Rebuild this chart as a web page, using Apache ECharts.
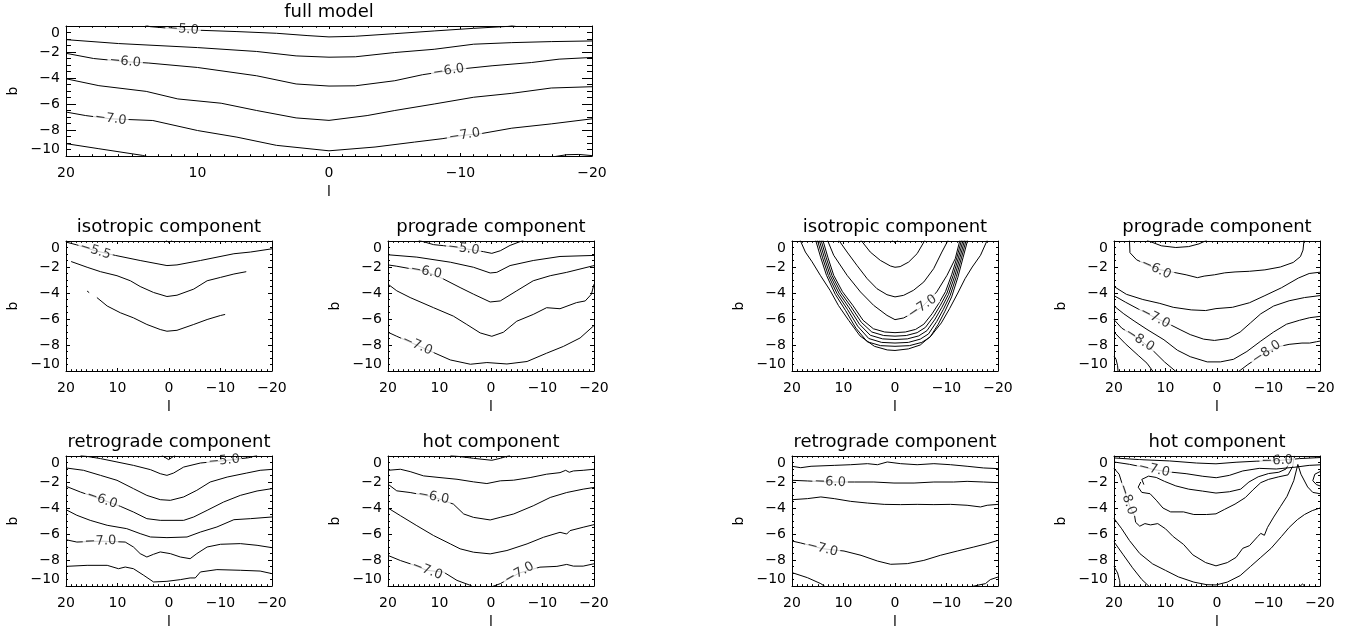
<!DOCTYPE html>
<html>
<head>
<meta charset="utf-8">
<title>Surface density contours</title>
<script src="https://cdn.jsdelivr.net/npm/echarts@6/dist/echarts.min.js"></script>
<style>
  html, body { margin: 0; padding: 0; background: #fff; }
  #chart { width: 1353px; height: 631px; }
</style>
</head>
<body>
<div id="chart"></div>
<script>
// ---- tick values ----
const lTicks = [20, 10, 0, -10, -20];
const bTicks = [0, -2, -4, -6, -8, -10];

const panelTitles = [
  'full model',
  'isotropic component', 'prograde component',
  'isotropic component', 'prograde component',
  'retrograde component', 'hot component',
  'retrograde component', 'hot component'
];

// ---- contour lines, points are [l, b]; labels are [l, b, level] ----
const fullModelLines = [
  [[14.0,0.1],[13.6,-0.05],[11.1,-0.26],[9.8,-0.33],[7.0,-0.43],[4.0,-0.56],[1.6,-0.74],[0,-0.84],[-2.0,-0.79],[-5.0,-0.59],[-8.0,-0.38],[-11.0,-0.18],[-13.6,-0.03],[-14.2,0.1]],
  [[20,-1.05],[16.0,-1.35],[10.0,-1.66],[5.5,-1.96],[2.5,-2.3],[0,-2.4],[-2.0,-2.37],[-5.0,-2.04],[-8.0,-1.79],[-11.0,-1.4],[-13.9,-1.28],[-16.9,-1.2],[-20,-1.15]],
  [[20,-2.1],[17.9,-2.5],[15.5,-2.74],[13.7,-2.85],[10.0,-3.19],[5.5,-3.83],[2.5,-4.46],[0,-4.62],[-2.0,-4.6],[-5.0,-4.21],[-7.1,-3.75],[-9.1,-3.44],[-9.9,-3.32],[-12.4,-3.06],[-15.4,-2.81],[-17.5,-2.55],[-20,-2.42]],
  [[20,-4.06],[17.5,-4.59],[13.9,-5.03],[11.5,-5.61],[8.2,-5.94],[5.5,-6.5],[2.5,-7.07],[0,-7.26],[-2.9,-6.89],[-5.0,-6.5],[-8.0,-6.0],[-11.0,-5.48],[-13.9,-5.18],[-16.9,-4.77],[-20,-4.67]],
  [[20,-6.62],[18.5,-6.89],[16.6,-7.14],[13.4,-7.27],[10.0,-8.04],[7.0,-8.55],[4.0,-9.18],[0,-9.6],[-3.5,-9.31],[-6.5,-8.93],[-8.6,-8.67],[-10.3,-8.4],[-11.5,-8.29],[-13.9,-7.86],[-16.9,-7.53],[-20,-7.14]],
  [[20,-9.05],[17.5,-9.44],[14.2,-9.95],[13.6,-10.1]],
  [[-16.8,-10.1],[-18.1,-9.9],[-19.0,-9.88],[-20,-9.97]]
];
const fullModelLabels = [[11.1,-0.26,-5.0],[15.5,-2.74,-6.0],[-9.1,-3.44,-6.0],[16.6,-7.14,-7.0],[-10.3,-8.4,-7.0]];

const isoLeftLines = [
  [[20,-0.08],[17.9,-0.3],[14.3,-0.75],[10.4,-1.11],[5.6,-1.5],[0.4,-1.89],[-1.55,-1.84],[-6.1,-1.5],[-12.6,-0.98],[-15.8,-0.85],[-20,-0.6]],
  [[0.6,0.05],[0,-0.12],[-0.6,0.05]],
  [[19.0,-1.58],[15.9,-2.02],[13.3,-2.36],[10.1,-2.67],[7.5,-3.06],[5.6,-3.5],[3.0,-3.96],[0.4,-4.27],[-1.55,-4.17],[-4.8,-3.7],[-7.4,-3.06],[-10.0,-2.8],[-12.6,-2.54],[-15.0,-2.36]],
  [[15.9,-3.85],[15.5,-3.97]],
  [[14.0,-4.35],[12.0,-5.0],[9.45,-5.52],[6.9,-5.91],[4.3,-6.42],[1.7,-6.81],[0.4,-6.94],[-1.55,-6.87],[-4.8,-6.42],[-7.4,-6.04],[-10.0,-5.73],[-10.9,-5.65]]
];
const isoLeftLabels = [[14.3,-0.75,-5.5]];

const proLeftLines = [
  [[14.05,0.05],[11.15,-0.28],[9.2,-0.36],[5.3,-0.58],[1.45,-0.82],[-0.16,-0.95],[-1.8,-0.75],[-3.7,-0.34],[-6.3,0.05]],
  [[20,-1.06],[14.4,-1.24],[7.9,-1.63],[3.4,-2.02],[0.16,-2.46],[-1.13,-2.41],[-3.7,-1.89],[-8.2,-1.5],[-13.4,-1.19],[-20,-1.11]],
  [[20,-1.84],[18.3,-1.94],[12.6,-2.35],[9.2,-2.93],[6.0,-3.58],[3.4,-4.09],[0.16,-4.69],[-1.8,-4.61],[-5.0,-3.83],[-8.2,-3.06],[-11.5,-2.67],[-14.7,-2.41],[-20,-1.89]],
  [[20,-3.32],[18.3,-3.83],[15.7,-4.35],[11.15,-5.13],[7.3,-5.78],[4.7,-6.42],[2.1,-7.07],[-0.16,-7.33],[-2.4,-7.02],[-5.0,-6.17],[-8.2,-5.65],[-10.8,-5.13],[-13.4,-5.21],[-16.6,-4.74],[-18.3,-4.61],[-19.5,-4.09],[-20,-3.32]],
  [[20,-7.02],[18.3,-7.33],[14.3,-8.03],[11.15,-8.58],[7.9,-9.15],[4.0,-9.48],[0.8,-9.35],[-3.1,-9.46],[-7.0,-9.27],[-10.8,-8.63],[-14.05,-8.11],[-17.3,-7.46],[-20,-6.5]]
];
const proLeftLabels = [[5.3,-0.58,-5.0],[12.6,-2.35,-6.0],[14.3,-8.03,-7.0]];

const isoRightLines = [
  [[0.6,0.05],[0,-0.12],[-0.6,0.05]],
  [[6.6,0.05],[4.8,-0.85],[2.85,-1.49],[0.9,-1.92],[0,-2.02],[-1.0,-1.97],[-2.65,-1.62],[-4.3,-0.97],[-5.8,0.05]],
  [[10.9,0.05],[9.3,-0.85],[7.4,-1.87],[5.4,-2.9],[3.5,-3.67],[1.56,-4.13],[0,-4.3],[-1.67,-4.18],[-3.6,-3.79],[-5.6,-3.15],[-7.5,-2.13],[-9.1,-0.85],[-10.3,0.05]],
  [[13.1,0.05],[11.9,-1.1],[9.3,-2.64],[6.7,-3.92],[4.15,-4.95],[1.56,-5.72],[0,-6.05],[-1.67,-5.92],[-3.6,-5.51],[-5.3,-5.05],[-8.1,-3.92],[-10.1,-2.64],[-11.7,-1.36],[-12.6,0.05]],
  [[14.0,0.05],[13.0,-1.3],[11.9,-2.64],[10.2,-3.9],[8.2,-4.95],[6.2,-6.1],[4.2,-6.75],[2.0,-7.0],[0,-7.05],[-2.0,-7.0],[-4.0,-6.8],[-5.6,-6.4],[-7.2,-5.6],[-8.5,-4.8],[-9.8,-3.9],[-11.0,-2.6],[-12.0,-1.3],[-12.9,0.05]],
  [[14.35,0.05],[13.35,-1.3],[12.25,-2.64],[10.55,-3.95],[8.55,-5.05],[6.55,-6.25],[4.5,-7.0],[2.2,-7.27],[0,-7.32],[-2.2,-7.27],[-4.3,-7.05],[-5.9,-6.65],[-7.5,-5.8],[-8.8,-4.95],[-10.1,-4.0],[-11.3,-2.65],[-12.3,-1.3],[-13.2,0.05]],
  [[14.7,0.05],[13.7,-1.3],[12.6,-2.64],[10.9,-4.0],[8.9,-5.15],[6.9,-6.4],[4.8,-7.25],[2.4,-7.53],[0,-7.58],[-2.4,-7.53],[-4.6,-7.3],[-6.2,-6.9],[-7.8,-6.0],[-9.1,-5.1],[-10.4,-4.1],[-11.6,-2.7],[-12.6,-1.3],[-13.5,0.05]],
  [[15.05,0.05],[14.05,-1.3],[12.95,-2.64],[11.25,-4.05],[9.25,-5.25],[7.25,-6.55],[5.1,-7.5],[2.6,-7.8],[0,-7.85],[-2.6,-7.8],[-4.9,-7.55],[-6.5,-7.15],[-8.1,-6.2],[-9.4,-5.25],[-10.7,-4.2],[-11.9,-2.75],[-12.9,-1.3],[-13.8,0.05]],
  [[15.4,0.05],[14.4,-1.3],[13.3,-2.64],[11.6,-4.1],[9.6,-5.35],[7.6,-6.7],[5.4,-7.75],[2.8,-8.05],[0,-8.1],[-2.8,-8.05],[-5.2,-7.8],[-6.8,-7.4],[-8.4,-6.4],[-9.7,-5.4],[-11.0,-4.3],[-12.2,-2.8],[-13.2,-1.3],[-14.1,0.05]],
  [[18.4,0.05],[17.4,-0.85],[16.1,-1.6],[14.5,-2.64],[12.6,-3.8],[11.0,-4.95],[9.0,-6.1],[6.8,-7.3],[4.0,-8.1],[1.5,-8.38],[0,-8.42],[-2.6,-8.3],[-4.9,-8.0],[-7.0,-7.3],[-9.0,-6.3],[-10.6,-5.2],[-12.2,-4.0],[-13.6,-2.9],[-15.0,-2.0],[-16.6,-1.1],[-17.9,0.05]]
];
const isoRightLabels = [[-5.3,-5.05,-7.0]];

const proRightLines = [
  [[13.6,0.05],[10.8,-0.37],[8.0,-0.5],[5.5,-0.43],[3.5,-0.22],[2.0,0.05]],
  [[17.0,0.05],[16.9,-0.9],[15.6,-1.45],[11.8,-2.15],[8.3,-2.42],[6.0,-2.6],[3.8,-2.82],[2.5,-2.7],[0.5,-2.6],[-1.5,-2.45],[-3.5,-2.38],[-6.3,-2.33],[-9.3,-2.22],[-12.3,-2.0],[-14.8,-1.65],[-16.2,-1.2],[-16.7,-0.7],[-16.9,0.05]],
  [[20,-3.5],[17.6,-4.1],[14.4,-4.5],[11.1,-4.8],[8.5,-5.1],[5.0,-5.3],[2.2,-5.35],[0.2,-5.2],[-3.0,-5.1],[-6.3,-4.75],[-9.3,-4.2],[-12.5,-3.6],[-15.8,-2.85],[-17.9,-2.5],[-20,-2.4]],
  [[20,-4.2],[17.8,-4.7],[15.2,-5.25],[12.0,-5.9],[9.0,-6.45],[7.0,-6.85],[5.2,-7.2],[2.6,-7.55],[0.5,-7.65],[-2.2,-7.5],[-4.5,-7.0],[-6.5,-6.3],[-8.5,-5.6],[-11.0,-5.0],[-14.0,-4.6],[-17.0,-4.35],[-20,-4.2]],
  [[20,-5.0],[18.1,-5.6],[16.1,-6.15],[13.6,-6.8],[10.3,-7.6],[7.7,-8.4],[5.2,-8.9],[1.9,-9.3],[-0.65,-9.3],[-3.2,-9.1],[-5.8,-8.5],[-8.5,-7.7],[-11.0,-7.0],[-13.5,-6.4],[-16.0,-6.1],[-18.0,-5.9],[-20,-5.8]],
  [[20,-6.05],[18.5,-6.7],[15.0,-7.6],[12.5,-8.4],[10.2,-9.3],[7.8,-10.1]],
  [[-4.0,-10.1],[-6.0,-9.5],[-7.5,-9.1],[-9.6,-8.55],[-11.7,-8.15],[-14.0,-7.95],[-16.5,-7.85],[-18.0,-7.85],[-19.3,-7.75],[-20,-7.7]],
  [[20,-7.0],[17.8,-7.9],[15.3,-8.8],[13.6,-9.4],[12.3,-10.1]],
  [[20,-8.85],[19.6,-9.1],[19.3,-9.6],[19.2,-10.1]]
];
const proRightLabels = [[11.8,-2.15,-6.0],[12.0,-5.9,-7.0],[15.0,-7.6,-8.0],[-9.6,-8.55,-8.0]];

const retroLeftLines = [
  [[1.4,0.05],[0.07,-0.28],[-1.2,0.05]],
  [[17.2,0.05],[13.3,-0.2],[10.1,-0.46],[6.9,-0.72],[3.6,-1.05],[1.7,-1.36],[0.4,-1.49],[-0.9,-1.31],[-2.85,-0.85],[-6.1,-0.54],[-10.7,-0.36],[-15.5,-0.13],[-17.1,0.05]],
  [[20,-0.92],[16.6,-1.1],[13.3,-1.49],[10.1,-1.87],[6.9,-2.51],[4.3,-3.03],[1.7,-3.36],[-0.26,-3.41],[-2.85,-3.15],[-5.4,-2.64],[-8.0,-2.0],[-11.3,-1.62],[-15.1,-1.31],[-17.7,-1.1],[-20,-1.03]],
  [[20,-2.33],[17.2,-2.77],[13.0,-3.36],[9.45,-3.87],[6.9,-4.31],[4.3,-4.82],[1.7,-4.95],[-2.85,-4.95],[-4.8,-4.69],[-7.4,-4.18],[-10.6,-3.54],[-13.85,-3.03],[-17.1,-2.69],[-20,-2.51]],
  [[20,-4.13],[17.9,-4.56],[15.3,-4.95],[12.0,-5.33],[8.2,-5.59],[5.6,-5.97],[3.6,-6.23],[0.4,-6.28],[-3.5,-6.23],[-6.1,-5.85],[-9.3,-5.46],[-12.6,-4.9],[-15.8,-4.82],[-20,-4.69]],
  [[20,-6.44],[17.9,-6.62],[13.3,-6.55],[8.5,-6.62],[6.9,-7.0],[5.6,-7.51],[4.3,-7.77],[3.0,-7.56],[1.7,-7.38],[-0.26,-7.51],[-2.2,-7.77],[-4.1,-7.9],[-5.4,-7.51],[-7.4,-7.0],[-10.0,-6.79],[-13.85,-6.74],[-17.1,-6.87],[-20,-7.05]],
  [[20,-8.49],[15.9,-8.41],[12.0,-8.41],[9.8,-8.67],[8.5,-8.54],[6.9,-8.67],[4.9,-9.18],[3.0,-9.69],[0.4,-9.64],[-2.2,-9.51],[-4.1,-9.38],[-5.1,-9.38],[-6.1,-8.92],[-9.3,-8.74],[-13.85,-8.79],[-17.7,-8.85],[-20,-9.05]]
];
const retroLeftLabels = [[-10.7,-0.36,-5.0],[13.0,-3.36,-6.0],[13.3,-6.55,-7.0]];

const hotLeftLines = [
  [[7.9,0.05],[3.4,-0.18],[-0.16,-0.33],[-1.8,-0.18],[-3.7,0.05]],
  [[20,-1.1],[17.6,-1.02],[15.7,-1.2],[13.1,-1.53],[9.9,-1.66],[6.6,-1.79],[3.4,-1.99],[0.8,-2.12],[-1.8,-1.91],[-4.4,-1.86],[-7.6,-1.66],[-10.8,-1.4],[-13.4,-1.28],[-14.5,-1.1],[-15.2,-1.25],[-16.0,-1.15],[-17.9,-1.1],[-20,-1.02]],
  [[20,-2.17],[18.3,-2.68],[15.7,-2.81],[11.15,-3.15],[7.3,-3.7],[5.3,-4.46],[3.4,-4.72],[0.16,-4.92],[-1.8,-4.72],[-4.4,-4.46],[-8.2,-3.83],[-11.5,-3.19],[-14.7,-2.81],[-17.9,-2.55],[-20,-2.42]],
  [[20,-4.0],[17.6,-4.59],[14.4,-5.36],[11.15,-6.12],[7.9,-6.76],[6.0,-7.14],[3.4,-7.4],[0.16,-7.53],[-3.1,-7.27],[-7.0,-6.76],[-10.2,-6.25],[-13.4,-5.87],[-14.7,-6.0],[-15.35,-5.74],[-17.9,-5.48],[-20,-5.28]],
  [[20,-7.65],[17.6,-8.04],[15.7,-8.29],[12.4,-8.8],[9.2,-8.93],[6.6,-9.57],[4.0,-9.95],[3.4,-10.1]],
  [[0.16,-10.1],[-1.8,-9.82],[-5.5,-9.0],[-9.5,-8.55],[-12.8,-8.49],[-14.7,-8.34],[-16.0,-8.47],[-17.9,-8.47],[-20,-8.29]]
];
const hotLeftLabels = [[11.15,-3.15,-6.0],[12.4,-8.8,-7.0],[-5.5,-9.0,-7.0]];

const retroRightLines = [
  [[20,-0.79],[18.3,-0.9],[16.3,-0.79],[11.8,-0.72],[8.6,-0.67],[5.35,-0.59],[3.4,-0.67],[1.5,-0.46],[-1.1,-0.59],[-4.3,-0.67],[-7.55,-0.59],[-10.8,-0.67],[-14.0,-0.79],[-17.2,-0.92],[-20,-0.97]],
  [[20,-1.87],[17.0,-1.92],[12.6,-2.0],[7.9,-2.0],[4.1,-2.0],[0.2,-2.08],[-3.7,-2.08],[-7.55,-2.0],[-11.4,-2.0],[-14.0,-1.95],[-17.2,-2.0],[-20,-2.05]],
  [[20,-3.36],[17.0,-3.28],[14.4,-3.15],[11.8,-3.28],[8.6,-3.49],[5.35,-3.62],[2.1,-3.72],[-1.1,-3.74],[-4.3,-3.72],[-7.55,-3.74],[-10.8,-3.72],[-14.0,-3.79],[-16.6,-3.92],[-17.9,-3.79],[-20,-3.72]],
  [[20,-6.54],[18.3,-6.69],[14.1,-7.13],[9.9,-7.31],[6.6,-7.64],[3.4,-8.08],[0.84,-8.33],[-2.4,-8.28],[-5.6,-8.03],[-8.8,-7.64],[-12.1,-7.31],[-15.3,-7.0],[-17.9,-6.74],[-20,-6.49]],
  [[20,-8.97],[17.0,-9.36],[14.4,-9.82],[13.4,-10.1]],
  [[-14.3,-10.1],[-16.3,-9.92],[-17.55,-9.82],[-18.5,-9.51],[-20,-9.31]]
];
const retroRightLabels = [[12.6,-2.0,-6.0],[14.1,-7.13,-7.0]];

const hotRightLines = [
  [[20,-0.15],[15.0,-0.28],[9.2,-0.38],[4.0,-0.54],[0.2,-0.6],[-3.7,-0.48],[-7.6,-0.4],[-11.7,-0.36],[-16.0,-0.2],[-20,-0.12]],
  [[20,-0.46],[17.0,-0.64],[14.4,-0.85],[12.2,-1.05],[9.2,-1.23],[6.0,-1.36],[2.75,-1.56],[0.16,-1.67],[-2.4,-1.49],[-5.0,-1.15],[-8.2,-0.95],[-11.5,-1.0],[-15.35,-0.85],[-17.9,-0.72],[-20,-0.68]],
  [[14.2,-2.2],[14.6,-1.8],[13.3,-1.55],[11.8,-1.65],[10.2,-1.95],[8.0,-2.3],[5.5,-2.55],[2.8,-2.7],[0.2,-2.85],[-2.4,-2.75],[-4.6,-2.55],[-6.2,-2.0],[-8.0,-1.6],[-10.0,-1.35],[-12.0,-1.25],[-13.4,-1.0],[-14.0,-0.55],[-14.3,0.05]],
  [[14.8,-2.0],[15.3,-2.4],[14.6,-2.8],[13.0,-2.9],[11.8,-3.4],[10.5,-4.0],[9.0,-4.3],[6.5,-4.3],[4.5,-4.5],[2.0,-4.5],[0.2,-4.45],[-1.5,-4.1],[-3.5,-3.7],[-5.5,-3.2],[-7.0,-2.6],[-8.5,-2.05],[-10.0,-1.8],[-12.0,-1.6],[-13.8,-1.45],[-14.7,-0.8],[-15.0,0.05]],
  [[20,-0.95],[19.0,-1.4],[18.3,-2.3],[17.4,-3.35],[16.8,-4.0],[16.0,-4.6],[15.8,-5.1],[15.0,-5.4],[14.0,-5.2],[12.9,-5.3],[11.5,-5.2],[10.0,-5.6],[8.5,-6.2],[6.5,-6.8],[4.7,-7.6],[2.2,-8.2],[0.2,-8.45],[-2.0,-8.2],[-3.7,-7.8],[-5.0,-7.1],[-6.3,-6.9],[-7.9,-6.2],[-8.5,-5.95],[-9.2,-6.1],[-9.8,-5.5],[-11.0,-4.7],[-12.3,-3.9],[-13.6,-3.1],[-14.9,-1.9],[-15.7,-0.65],[-16.3,-1.4],[-17.6,-2.38],[-18.6,-2.8],[-20,-2.9]],
  [[-20,-1.2],[-19.0,-1.4],[-18.6,-1.9],[-19.3,-2.2],[-20,-2.3]],
  [[20,-4.8],[18.5,-5.6],[17.0,-6.5],[15.0,-7.5],[12.5,-8.3],[10.0,-8.8],[7.5,-9.3],[4.5,-9.7],[2.0,-9.9],[0.2,-9.92],[-2.0,-9.7],[-4.5,-9.2],[-6.5,-8.5],[-8.5,-7.8],[-10.5,-7.1],[-12.5,-6.2],[-14.0,-5.5],[-15.6,-4.9],[-17.0,-4.5],[-18.5,-4.2],[-20,-4.0]],
  [[20,-6.6],[18.2,-7.6],[16.4,-8.6],[14.6,-9.5],[13.0,-10.1]],
  [[20,-8.5],[19.3,-9.0],[18.9,-9.6],[18.8,-10.1]],
  [[-15.9,-10.1],[-16.6,-9.85],[-17.3,-10.1]]
];
const hotRightLabels = [[-11.7,-0.36,-6.0],[12.2,-1.05,-7.0],[17.4,-3.35,-8.0]];

// ---- layout: [left, top, width, height] of each plot frame ----
const frames = [
  [66, 26, 526, 130],
  [66, 241, 206, 130], [388, 241, 206, 130], [792, 241, 206, 130], [1114, 241, 206, 130],
  [66, 456, 206, 130], [388, 456, 206, 130], [792, 456, 206, 130], [1114, 456, 206, 130]
];

const panelLines = [fullModelLines, isoLeftLines, proLeftLines, isoRightLines, proRightLines,
                    retroLeftLines, hotLeftLines, retroRightLines, hotRightLines];
const panelLabels = [fullModelLabels, isoLeftLabels, proLeftLabels, isoRightLabels, proRightLabels,
                     retroLeftLabels, hotLeftLabels, retroRightLabels, hotRightLabels];

const FONT = 'DejaVu Sans';
const minus = v => (v < 0 ? '\u2212' : '') + Math.abs(v);
const levelText = v => (v < 0 ? '\u2212' : '') + Math.abs(v).toFixed(1);

// angle of the contour through a label, in screen space
function labelRotation(lines, l, b, w, h) {
  const sx = w / 40, sy = h / 10;
  let best = null, bestD = Infinity;
  lines.forEach(line => {
    for (let k = 0; k < line.length - 1; k++) {
      const [l1, b1] = line[k], [l2, b2] = line[k + 1];
      const x1 = -l1 * sx, y1 = -b1 * sy, x2 = -l2 * sx, y2 = -b2 * sy;
      const px = -l * sx, py = -b * sy;
      const dx = x2 - x1, dy = y2 - y1;
      const len2 = dx * dx + dy * dy || 1;
      let t = ((px - x1) * dx + (py - y1) * dy) / len2;
      t = Math.max(0, Math.min(1, t));
      const qx = x1 + t * dx - px, qy = y1 + t * dy - py;
      const d = qx * qx + qy * qy;
      if (d < bestD) { bestD = d; best = [dx, dy]; }
    }
  });
  if (!best) return 0;
  let deg = -Math.atan2(best[1], best[0]) * 180 / Math.PI;
  if (deg > 90) deg -= 180;
  if (deg < -90) deg += 180;
  return deg;
}

const grids = [], xAxes = [], yAxes = [], series = [], titles = [];

frames.forEach((f, i) => {
  const [left, top, width, height] = f;
  const big = width > 300;
  grids.push({ left, top, width, height, containLabel: false });

  ['bottom', 'top'].forEach(pos => {
    xAxes.push({
      gridIndex: i, type: 'value', min: -20, max: 20, interval: 10, inverse: true,
      position: pos, z: 10,
      axisLine: { show: true, onZero: false, lineStyle: { color: '#000', width: 1 } },
      axisTick: { show: true, inside: true, length: 3, lineStyle: { color: '#000', width: 1 } },
      minorTick: { show: true, splitNumber: 10, length: 1.8, lineStyle: { color: '#000', width: 1 } },
      splitLine: { show: false },
      axisLabel: {
        show: pos === 'bottom', color: '#000', fontSize: 14, fontFamily: FONT, margin: 10,
        showMinLabel: true, showMaxLabel: true,
        formatter: v => lTicks.includes(v) ? minus(v) : ''
      },
      name: pos === 'bottom' ? 'l' : '', nameLocation: 'middle', nameGap: 29,
      nameTextStyle: { color: '#000', fontSize: 14, fontFamily: FONT }
    });
  });

  ['left', 'right'].forEach(pos => {
    yAxes.push({
      gridIndex: i, type: 'value', min: -10, max: 0, interval: 2,
      position: pos, z: 10,
      axisLine: { show: true, onZero: false, lineStyle: { color: '#000', width: 1 } },
      axisTick: { show: true, inside: true, length: big ? 10 : 4, lineStyle: { color: '#000', width: 1 } },
      minorTick: { show: true, splitNumber: 4, length: big ? 5 : 2, lineStyle: { color: '#000', width: 1 } },
      splitLine: { show: false },
      axisLabel: {
        show: pos === 'left', color: '#000', fontSize: 14, fontFamily: FONT, margin: 6,
        showMinLabel: true, showMaxLabel: true,
        verticalAlignMinLabel: 'bottom', verticalAlignMaxLabel: 'top',
        formatter: v => bTicks.includes(v) ? minus(v) : ''
      },
      name: pos === 'left' ? 'b' : '', nameLocation: 'middle', nameGap: 46, nameRotate: 90,
      nameTextStyle: { color: '#000', fontSize: 14, fontFamily: FONT }
    });
  });

  titles.push({
    text: panelTitles[i], left: left + width / 2, top: top - 24, textAlign: 'center', padding: 0,
    textStyle: { color: '#000', fontSize: 18, fontWeight: 'normal', fontFamily: FONT, lineHeight: 20 }
  });

  panelLines[i].forEach(line => {
    series.push({
      type: 'line', xAxisIndex: 2 * i, yAxisIndex: 2 * i, data: line,
      showSymbol: false, symbol: 'none', smooth: false, clip: true, silent: true, z: 2,
      lineStyle: { color: '#000', width: 1 }, emphasis: { disabled: true }
    });
  });

  // contour level labels, sitting on their line with a white box that opens a gap in it
  series.push({
    type: 'scatter', xAxisIndex: 2 * i, yAxisIndex: 2 * i, symbol: 'circle', symbolSize: 2,
    silent: true, z: 5, clip: false,
    itemStyle: { color: 'rgba(255,255,255,0)' }, emphasis: { disabled: true },
    label: {
      show: true, position: 'inside', formatter: '{b}', color: '#000',
      fontSize: 13, fontFamily: FONT, backgroundColor: '#fff', padding: [0, 2], lineHeight: 12
    },
    labelLayout: { hideOverlap: false },
    data: panelLabels[i].map(([l, b, v]) => ({
      name: levelText(v), value: [l, b],
      label: { rotate: labelRotation(panelLines[i], l, b, width, height) }
    }))
  });
});

const chart = echarts.init(document.getElementById('chart'), null, { renderer: 'canvas' });
chart.setOption({
  animation: false,
  backgroundColor: '#fff',
  title: titles,
  grid: grids,
  xAxis: xAxes,
  yAxis: yAxes,
  series: series
});
</script>
</body>
</html>
